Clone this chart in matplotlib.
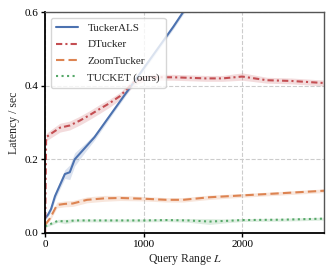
import numpy as np
import matplotlib.pyplot as plt
import seaborn as sns

sns.set_theme(style="whitegrid")
plt.rcParams['font.family'] = ['Liberation Serif', 'DejaVu Serif']
plt.rcParams['mathtext.fontset'] = 'stix'

# query ranges L
x_als = [0, 30, 60, 100, 150, 200, 250, 300, 400, 500, 700, 900, 1100, 1300, 1500]
y_als = [0.04, 0.05, 0.065, 0.10, 0.13, 0.16, 0.165, 0.20, 0.23, 0.26, 0.335, 0.41, 0.485, 0.56, 0.64]
e_als = [0.005, 0.006, 0.008, 0.01, 0.01, 0.012, 0.02, 0.018, 0.012, 0.008, 0.006, 0.006, 0.006, 0.006, 0.006]

x_dt = [0, 10, 50, 150, 250, 350, 450, 560, 650, 760, 900, 1030, 1300, 1630, 1800, 2000, 2250, 2500, 2850]
y_dt = [0.0, 0.26, 0.268, 0.286, 0.292, 0.305, 0.32, 0.338, 0.352, 0.372, 0.41, 0.423, 0.423, 0.42, 0.42, 0.425, 0.415, 0.413, 0.407]
e_dt = [0.0, 0.01, 0.011, 0.012, 0.012, 0.012, 0.012, 0.012, 0.011, 0.01, 0.01, 0.008, 0.008, 0.008, 0.008, 0.01, 0.008, 0.008, 0.008]

x_zt = [0, 50, 120, 200, 280, 425, 600, 760, 1000, 1230, 1400, 1670, 2000, 2400, 2850]
y_zt = [0.022, 0.04, 0.076, 0.079, 0.08, 0.09, 0.094, 0.095, 0.093, 0.09, 0.09, 0.097, 0.102, 0.108, 0.115]
e_zt = [0.004, 0.006, 0.008, 0.008, 0.008, 0.008, 0.008, 0.007, 0.006, 0.006, 0.006, 0.006, 0.005, 0.005, 0.005]

x_tk = [0, 60, 130, 200, 300, 600, 1000, 1230, 1450, 1670, 1850, 2000, 2400, 2850]
y_tk = [0.018, 0.025, 0.033, 0.031, 0.034, 0.034, 0.034, 0.035, 0.034, 0.031, 0.033, 0.035, 0.036, 0.039]
e_tk = [0.003, 0.004, 0.004, 0.006, 0.004, 0.004, 0.004, 0.004, 0.005, 0.008, 0.005, 0.004, 0.004, 0.004]

series = [
    (x_als, y_als, e_als, 'TuckerALS', '-', '#4C72B0'),
    (x_dt, y_dt, e_dt, 'DTucker', (0, (3, 1.5, 1, 1.5)), '#C44E52'),
    (x_zt, y_zt, e_zt, 'ZoomTucker', (0, (4, 2)), '#DD8452'),
    (x_tk, y_tk, e_tk, 'TUCKET (ours)', ':', '#55A868'),
]

fig = plt.figure(figsize=(3.32, 2.76), dpi=100)
ax = fig.add_axes([0.136, 0.156, 0.840, 0.800])

for xs, ys, es, lab, ls, c in series:
    xs = np.array(xs); ys = np.array(ys); es = np.array(es)
    ax.fill_between(xs, ys - es, ys + es, color=c, alpha=0.2, lw=0)
    ax.plot(xs, ys, ls=ls, color=c, lw=1.5, label=lab)

ax.set_xlim(0, 2830)
ax.set_ylim(0, 0.6)
ax.set_xticks([0, 1000, 2000])
ax.set_yticks([0.0, 0.2, 0.4, 0.6])
ax.grid(True, ls='--', color='#cccccc', lw=0.8)
ax.tick_params(labelsize=8, length=3, width=1, colors='black', pad=2)
ax.tick_params(axis='both', which='both', direction='out', bottom=True, left=True)
ax.set_xlabel('Query Range $L$', fontsize=8.5, labelpad=2)
ax.set_ylabel('Latency / sec', fontsize=8.5, labelpad=3)
for s in ['left', 'bottom']:
    ax.spines[s].set_color('black')
    ax.spines[s].set_linewidth(1.3)
for s in ['top', 'right']:
    ax.spines[s].set_color('#555555')
    ax.spines[s].set_linewidth(1.0)

ax.legend(loc='upper left', fontsize=8, frameon=True, handlelength=2.0,
          borderpad=0.5, labelspacing=0.6, fancybox=True)

fig.savefig('out.png', dpi=100)
